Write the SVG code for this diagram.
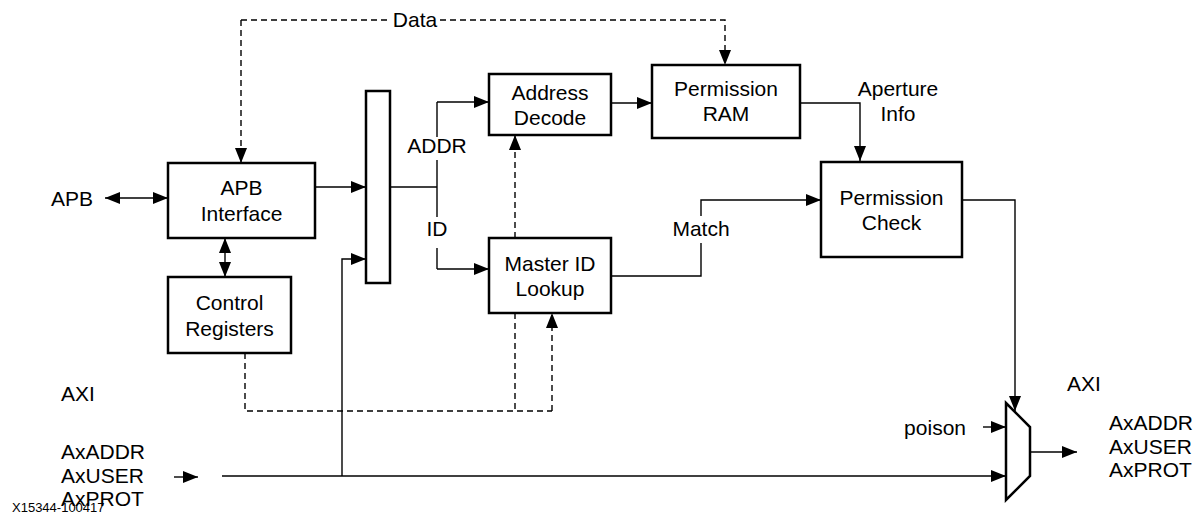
<svg xmlns="http://www.w3.org/2000/svg" width="1204" height="516" viewBox="0 0 1204 516">
<style>
text{font-family:"Liberation Sans",Arial,sans-serif;font-size:21px;fill:#000}
.c{text-anchor:middle}
.box{fill:#fff;stroke:#000;stroke-width:2.5}
.ln{fill:none;stroke:#000;stroke-width:1.4}
.ds{fill:none;stroke:#000;stroke-width:1.4;stroke-dasharray:6,4}
.ar{marker-end:url(#ah)}
</style>
<defs>
<marker id="ah" markerUnits="userSpaceOnUse" markerWidth="15" markerHeight="12" refX="15" refY="6" orient="auto-start-reverse"><path d="M0,0 L15,6 L0,12 z" fill="#000"/></marker>
</defs>
<g id="connectors">
<path class="ds" d="M241,20 H391"/>
<path class="ds" d="M440,20 H725 V65" marker-end="url(#ah)"/>
<path class="ds" d="M241,20 V163" marker-end="url(#ah)"/>
<path class="ln" d="M105,198 H168" marker-start="url(#ah)" marker-end="url(#ah)"/>
<path class="ln" d="M225,238 V277" marker-start="url(#ah)" marker-end="url(#ah)"/>
<path class="ln ar" d="M315,187 H366"/>
<path class="ln" d="M390,187 H437"/>
<path class="ln" d="M437,137 V102"/>
<path class="ln ar" d="M437,102 H489"/>
<path class="ln" d="M437,160 V217"/>
<path class="ln" d="M437,248 V269"/>
<path class="ln ar" d="M437,269 H489"/>
<path class="ln ar" d="M611,103 H652"/>
<path class="ln ar" d="M800,103 H860 V161"/>
<path class="ln" d="M611,276 H701 V243"/>
<path class="ln ar" d="M701,216 V200 H821"/>
<path class="ln ar" d="M962,200 H1015 V411"/>
<path class="ds ar" d="M515,238 V135"/>
<path class="ds" d="M245,353 V411 H552"/>
<path class="ds" d="M515,313 V411"/>
<path class="ds ar" d="M552,411 V313"/>
<path class="ln ar" d="M222,476 H1006"/>
<path class="ln ar" d="M342,476 V259 H366"/>
<path class="ln ar" d="M174,477 H198"/>
<path class="ln ar" d="M983,427 H1006"/>
<path class="ln ar" d="M1030,452 H1077"/>
</g>
<text x="415" y="27" class="c">Data</text>
<g id="apb-interface"><rect class="box" x="168" y="163" width="147" height="75"/><text x="241.5" y="195" class="c">APB</text><text x="241.5" y="221" class="c">Interface</text></g>
<g id="control-registers"><rect class="box" x="168" y="277" width="123" height="76"/><text x="229.5" y="310" class="c">Control</text><text x="229.5" y="336" class="c">Registers</text></g>
<g id="bar"><rect class="box" x="366" y="91" width="24" height="192"/></g>
<g id="address-decode"><rect class="box" x="489" y="74" width="122" height="61"/><text x="550" y="100" class="c">Address</text><text x="550" y="125" class="c">Decode</text></g>
<g id="master-id-lookup"><rect class="box" x="489" y="238" width="122" height="75"/><text x="550" y="271" class="c">Master ID</text><text x="550" y="296" class="c">Lookup</text></g>
<g id="permission-ram"><rect class="box" x="652" y="65" width="148" height="73"/><text x="726" y="96" class="c">Permission</text><text x="726" y="121" class="c">RAM</text></g>
<g id="permission-check"><rect class="box" x="821" y="162" width="141" height="95"/><text x="891.5" y="205" class="c">Permission</text><text x="891.5" y="230" class="c">Check</text></g>
<g id="mux"><polygon class="box" points="1006,403 1030,427 1030,476 1006,500"/></g>
<g id="labels">
<text x="437" y="153" class="c">ADDR</text>
<text x="437" y="236" class="c">ID</text>
<text x="701" y="236" class="c">Match</text>
<text x="898" y="96" class="c">Aperture</text>
<text x="898" y="121" class="c">Info</text>
<text x="51" y="206">APB</text>
<text x="61" y="401">AXI</text>
<text x="61" y="459">AxADDR</text>
<text x="61" y="483">AxUSER</text>
<text x="61" y="506">AxPROT</text>
<text x="966" y="435" text-anchor="end">poison</text>
<text x="1067" y="391">AXI</text>
<text x="1109" y="430">AxADDR</text>
<text x="1109" y="454">AxUSER</text>
<text x="1109" y="477">AxPROT</text>
<text x="12" y="512" style="font-size:13px">X15344-100417</text>
</g>
</svg>
